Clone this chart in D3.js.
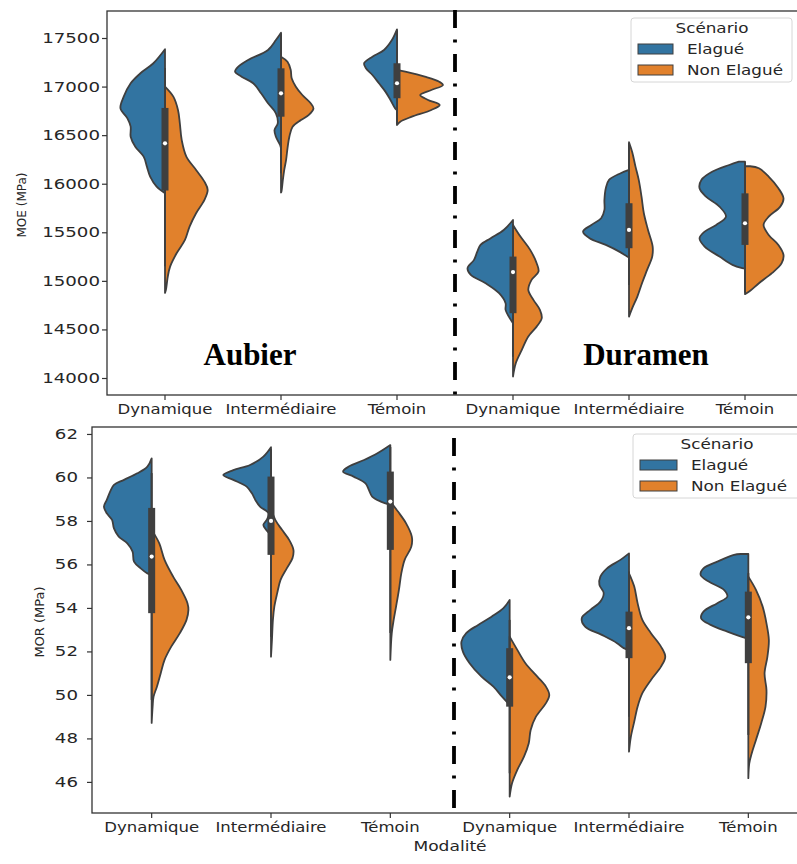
<!DOCTYPE html>
<html><head><meta charset="utf-8">
<script src="https://cdn.jsdelivr.net/npm/d3@7"></script>
<style>
body{margin:0;background:#fff;}
text{font-family:"DejaVu Sans",sans-serif;fill:#262626;}
</style>
</head><body>
<svg id="c" width="797" height="864"></svg>
<script>
// ---------- DATA ----------
const zones = ["Aubier", "Duramen"];
const modalites = ["Dynamique", "Intermédiaire", "Témoin"];
const scenarios = ["Elagué", "Non Elagué"];
const colors = ["#3274a1", "#e1812c"];
const moeTicks = [14000, 14500, 15000, 15500, 16000, 16500, 17000, 17500];
const morTicks = [46, 48, 50, 52, 54, 56, 58, 60, 62];

// half-violin density profiles: [value, relative density]
// order: Aubier Dynamique, Aubier Intermédiaire, Aubier Témoin, Duramen Dynamique, Duramen Intermédiaire, Duramen Témoin
const moeElague = [
  [[17384,0],[17240,.25],[17137,.53],[17034,.74],[16896,.89],[16776,.96],[16673,.81],[16587,.74],[16484,.74],[16381,.64],[16279,.46],[16176,.39],[16073,.32],[15970,.18],[15902,0]],
  [[17555,0],[17479,.11],[17377,.28],[17274,.71],[17205,.92],[17153,.99],[17102,.85],[17034,.60],[16931,.43],[16828,.28],[16725,.11],[16622,.07],[16553,.14],[16484,.11],[16399,.02],[16365,0]],
  [[17589,0],[17479,.11],[17377,.28],[17308,.53],[17240,.71],[17188,.67],[17119,.53],[17034,.39],[16948,.25],[16862,.14],[16776,.04],[16759,0]],
  [[15627,0],[15524,.20],[15439,.48],[15370,.70],[15301,.77],[15216,.84],[15130,.98],[15061,.91],[14976,.59],[14873,.30],[14770,.16],[14701,.16],[14632,.09],[14564,0]],
  [[16142,0],[16108,.18],[16039,.43],[15953,.50],[15833,.53],[15730,.53],[15644,.60],[15576,.81],[15507,.99],[15439,.85],[15370,.50],[15301,.21],[15250,.04],[15240,0]],
  [[16228,.13],[16193,.34],[16125,.70],[16039,.94],[15953,.98],[15867,.84],[15764,.55],[15661,.41],[15576,.62],[15507,.87],[15439,.98],[15353,.87],[15250,.55],[15164,.27],[15130,.06],[15125,0]]
];
const moeNonElague = [
  [[17000,0],[16896,.18],[16759,.28],[16622,.32],[16450,.36],[16279,.46],[16142,.67],[16021,.85],[15936,.92],[15833,.85],[15696,.67],[15559,.53],[15421,.43],[15284,.25],[15147,.11],[15044,.06],[14907,.02],[14876,0]],
  [[17308,0],[17256,.14],[17171,.21],[17085,.23],[16999,.32],[16913,.46],[16828,.64],[16776,.70],[16708,.60],[16656,.43],[16587,.25],[16484,.18],[16365,.14],[16245,.11],[16142,.07],[16039,.04],[15919,.01],[15909,0]],
  [[17171,0],[17153,.18],[17102,.60],[17050,.91],[17016,.99],[16965,.74],[16913,.50],[16862,.67],[16810,.92],[16759,.74],[16690,.32],[16639,.07],[16605,0]],
  [[15576,0],[15456,.16],[15319,.37],[15182,.51],[15096,.55],[15010,.40],[14907,.33],[14804,.44],[14701,.58],[14616,.62],[14529,.51],[14427,.33],[14290,.19],[14153,.06],[14015,0]],
  [[16427,0],[16324,.07],[16176,.14],[16039,.21],[15867,.27],[15696,.32],[15524,.41],[15353,.51],[15250,.50],[15113,.39],[14976,.28],[14838,.18],[14719,.07],[14632,0]],
  [[16180,.11],[16159,.30],[16073,.51],[15953,.72],[15850,.83],[15764,.76],[15661,.51],[15576,.40],[15473,.51],[15370,.72],[15267,.83],[15182,.79],[15079,.58],[14976,.30],[14890,.09],[14863,0]]
];
// inner box: [lower whisker, Q1, median, Q3, upper whisker]
const moeBox = [
  [15150, 15930, 16416, 16780, 17190],
  [16107, 16690, 16931, 17188, 17550],
  [16610, 16880, 17034, 17240, 17580],
  [14220, 14667, 15090, 15250, 15580],
  [14958, 15336, 15524, 15799, 16420],
  [14880, 15370, 15593, 15901, 16220]
];

const morElague = [
  [[60.88,0],[60.50,.09],[60.19,.30],[59.89,.58],[59.66,.79],[59.35,.87],[58.97,.94],[58.66,1.0],[58.35,.94],[58.05,.83],[57.66,.79],[57.28,.69],[56.97,.51],[56.59,.40],[56.13,.37],[55.82,.23],[55.59,.09],[55.52,0]],
  [[61.39,0],[60.96,.16],[60.57,.44],[60.34,.79],[60.11,1.0],[59.89,.79],[59.58,.51],[59.27,.40],[58.97,.33],[58.66,.23],[58.35,.05],[58.05,.09],[57.82,.16],[57.59,.10],[57.36,0]],
  [[61.49,0],[61.11,.27],[60.80,.55],[60.50,.87],[60.27,.99],[60.04,.77],[59.73,.52],[59.43,.45],[59.12,.38],[58.89,.20],[58.74,0]],
  [[54.37,0],[53.99,.13],[53.60,.38],[53.22,.66],[52.84,.91],[52.45,1.01],[51.99,.98],[51.46,.84],[50.84,.59],[50.38,.34],[49.92,.16],[49.54,0]],
  [[56.51,0],[56.21,.18],[55.82,.46],[55.44,.60],[55.06,.62],[54.68,.53],[54.29,.60],[53.91,.81],[53.53,.99],[53.14,.92],[52.76,.57],[52.38,.25],[52.15,.11],[52.07,0]],
  [[56.48,.16],[56.44,.30],[56.13,.65],[55.82,.94],[55.52,1.0],[55.21,.83],[54.83,.51],[54.52,.44],[54.22,.65],[53.83,.94],[53.53,.99],[53.22,.79],[52.91,.44],[52.61,.05],[52.58,0]]
];
const morNonElague = [
  [[57.59,0],[56.97,.16],[56.21,.27],[55.44,.45],[54.83,.62],[54.22,.75],[53.91,.77],[53.45,.73],[52.84,.59],[52.22,.41],[51.61,.27],[51.00,.19],[50.38,.11],[49.92,.04],[49.46,.02],[48.71,0]],
  [[58.58,0],[58.05,.09],[57.59,.23],[57.13,.38],[56.67,.47],[56.29,.45],[55.82,.33],[55.29,.20],[54.68,.13],[54.06,.07],[53.45,.04],[52.53,.02],[51.76,0]],
  [[58.89,0],[58.43,.16],[57.89,.33],[57.28,.45],[56.82,.44],[56.21,.30],[55.59,.23],[54.83,.18],[54.06,.12],[53.45,.07],[52.84,.03],[51.61,0]],
  [[52.68,0],[52.07,.16],[51.46,.33],[50.84,.58],[50.38,.76],[50.00,.83],[49.62,.76],[49.00,.55],[48.39,.44],[47.78,.40],[47.16,.30],[46.55,.16],[45.94,.05],[45.32,0]],
  [[55.59,0],[54.98,.11],[54.22,.18],[53.45,.28],[52.84,.46],[52.22,.67],[51.76,.76],[51.30,.67],[50.69,.46],[50.08,.28],[49.46,.18],[48.77,.11],[48.08,.04],[47.39,0]],
  [[55.44,0],[54.83,.16],[54.06,.30],[53.29,.38],[52.53,.43],[51.76,.40],[50.99,.34],[50.23,.38],[49.46,.36],[48.70,.27],[47.93,.16],[47.31,.07],[46.85,.02],[46.17,0]]
];
const morBox = [
  [49.77, 53.76, 56.36, 58.60, 60.20],
  [52.68, 56.44, 58.00, 60.04, 61.30],
  [52.85, 56.67, 58.89, 60.27, 61.40],
  [46.40, 49.46, 50.81, 52.15, 53.45],
  [49.00, 51.69, 53.07, 53.83, 55.67],
  [48.16, 51.46, 53.57, 54.75, 55.60]
];

// ---------- CHART ----------
const categories = zones.flatMap(z => modalites.map(m => z + "|" + m));
const svg = d3.select("#c");
const edge = "#3f3f3f";

const defs = svg.append("defs");
defs.append("filter").attr("id", "glow").attr("x", "-2").attr("width", "5")
  .append("feGaussianBlur").attr("stdDeviation", 1.6);

function panel(cfg) {
  const g = svg.append("g");
  const x = d3.scaleBand(categories, [cfg.left, cfg.right]);
  const y = d3.scaleLinear(cfg.domain, [cfg.bottom, cfg.top]);
  const w = d3.scaleLinear([0, 1], [0, x.bandwidth() * 0.4]);

  categories.forEach((c, i) => {
    const cx = x(c) + x.bandwidth() / 2;
    [cfg.el[i], cfg.nel[i]].forEach((prof, s) => {
      const sign = s === 0 ? -1 : 1;
      const area = d3.area()
        .curve(d3.curveCatmullRom.alpha(0.5))
        .y(d => y(d[0])).x0(cx).x1(d => cx + sign * w(d[1]));
      g.append("path").attr("d", area(prof))
        .attr("fill", colors[s]).attr("stroke", edge)
        .attr("stroke-width", 1.8).attr("stroke-linejoin", "round");
    });
    const b = cfg.box[i];
    g.append("line").attr("x1", cx).attr("x2", cx)
      .attr("y1", y(b[0])).attr("y2", y(b[4]))
      .attr("stroke", edge).attr("stroke-width", 2);
    g.append("rect").attr("x", cx - 3.5).attr("width", 7)
      .attr("y", y(b[3])).attr("height", y(b[1]) - y(b[3]))
      .attr("fill", edge);
    g.append("circle").attr("cx", cx).attr("cy", y(b[2])).attr("r", 2.1)
      .attr("fill", "#fff");
  });

  // frame
  g.append("rect").attr("x", cfg.left).attr("y", cfg.top)
    .attr("width", cfg.right - cfg.left).attr("height", cfg.bottom - cfg.top)
    .attr("fill", "none").attr("stroke", "#333").attr("stroke-width", 1.3);

  // y axis
  const ya = g.append("g").attr("transform", `translate(${cfg.left},0)`)
    .call(d3.axisLeft(y).tickValues(cfg.ticks).tickSize(5).tickPadding(cfg.yPad).tickFormat(d3.format("d")));
  ya.select(".domain").remove();
  ya.selectAll("line").attr("stroke", "#333").attr("stroke-width", 1.2);
  ya.selectAll("text").attr("font-size", 14).attr("fill", "#262626")
    .attr("font-family", "DejaVu Sans").attr("transform", "scale(1.3,1)");

  // x axis
  const xa = g.append("g").attr("transform", `translate(0,${cfg.bottom})`)
    .call(d3.axisBottom(x).tickSize(5).tickPadding(4).tickFormat(d => d.split("|")[1]));
  xa.select(".domain").remove();
  xa.selectAll("line").attr("stroke", "#333").attr("stroke-width", 1.2);
  xa.selectAll("text").attr("font-size", 14).attr("fill", "#262626")
    .attr("font-family", "DejaVu Sans").attr("transform", "scale(1.18,1)");

  // y label
  g.append("text").attr("transform", `translate(${cfg.ylx},${(cfg.top + cfg.bottom) / 2 + cfg.yly}) rotate(-90)`)
    .attr("text-anchor", "middle").attr("font-size", cfg.ylfs).text(cfg.ylabel);

  // dash-dot separator between the two zones
  const sepX = x(categories[3]) - (cfg.sepShift || 0);
  [["#888", 5, "url(#glow)", 0.6], ["#000", 3.8, null, 1]].forEach(([col, sw, f, op]) => {
    const l = g.append("line").attr("x1", sepX).attr("x2", sepX)
      .attr("y1", cfg.sepTop).attr("y2", cfg.bottom)
      .attr("stroke", col).attr("stroke-width", sw).attr("opacity", op)
      .attr("stroke-dasharray", "18,11.5,3,11.5");
    if (f) l.attr("filter", f);
  });

  // legend
  const L = cfg.legend;
  const lg = g.append("g");
  lg.append("rect").attr("x", L.x).attr("y", L.y).attr("width", L.w).attr("height", 64)
    .attr("rx", 3).attr("fill", "#fff").attr("fill-opacity", 0.85)
    .attr("stroke", "#d6d6d6").attr("stroke-width", 1);
  lg.append("text").attr("transform", `translate(${L.tx},${L.y + 15}) scale(1.2,1)`)
    .attr("text-anchor", "middle").attr("font-size", 14).text("Scénario");
  scenarios.forEach((s, k) => {
    const yy = L.y + 26 + k * 21;
    lg.append("rect").attr("x", L.px).attr("y", yy).attr("width", L.pw).attr("height", 10)
      .attr("fill", colors[k]).attr("stroke", edge).attr("stroke-width", 1);
    lg.append("text").attr("transform", `translate(${L.lx},${yy + 10}) scale(1.2,1)`)
      .attr("font-size", 14).text(s);
  });
  return { x, y };
}

const panelMOE = panel({
  left: 107, right: 803, top: 11, bottom: 395, domain: [13825, 17778],
  ticks: moeTicks, el: moeElague, nel: moeNonElague, box: moeBox,
  yPad: 0.4, ylabel: "MOE (MPa)", ylx: 26, yly: 2, ylfs: 12, sepTop: 10,
  legend: { x: 631, y: 18, w: 161, tx: 712, px: 638, pw: 35, lx: 687 }
});
const panelMOR = panel({
  left: 92, right: 808, top: 427, bottom: 813, domain: [44.57, 62.32],
  ticks: morTicks, el: morElague, nel: morNonElague, box: morBox,
  yPad: 5.8, ylabel: "MOR (MPa)", ylx: 44, yly: 2, ylfs: 13, sepTop: 438, sepShift: -4,
  legend: { x: 633, y: 434, w: 175, tx: 717, px: 640, pw: 37, lx: 691 }
});

// x label
svg.append("text").attr("transform", "translate(450,851) scale(1.22,1)")
  .attr("text-anchor", "middle").attr("font-size", 14).text("Modalité");

// zone annotations
svg.append("text").attr("x", 250).attr("y", 365).attr("text-anchor", "middle")
  .style("font-family", "'Liberation Serif', 'Times New Roman', serif")
  .attr("font-weight", "bold").attr("font-size", 31).style("fill", "#000")
  .text(zones[0]);
svg.append("text").attr("x", 646).attr("y", 365).attr("text-anchor", "middle")
  .style("font-family", "'Liberation Serif', 'Times New Roman', serif")
  .attr("font-weight", "bold").attr("font-size", 31).style("fill", "#000")
  .text(zones[1]);
</script>
</body></html>
